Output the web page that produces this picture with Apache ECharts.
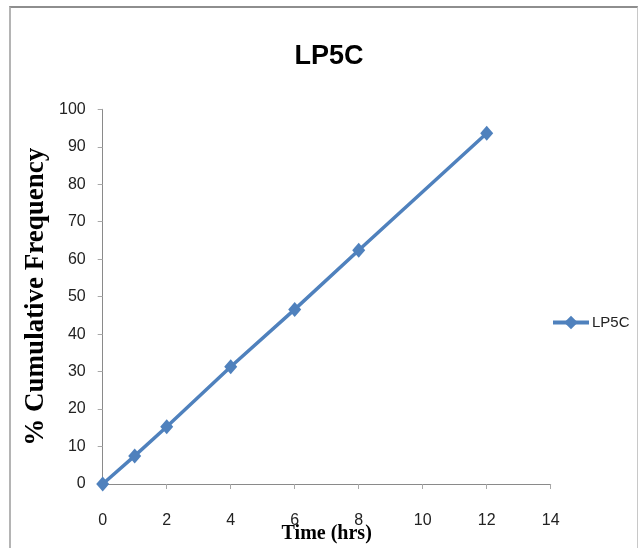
<!DOCTYPE html>
<html>
<head>
<meta charset="utf-8">
<script src="https://cdn.jsdelivr.net/npm/echarts@6/dist/echarts.min.js"></script>
<style>
    html, body { margin: 0; padding: 0; background: #fff; overflow: hidden; }
    #frame {
        position: absolute; left: 9px; top: 6px; width: 626px; height: 542px;
        border-top: 2px solid #8e8e8e; border-left: 2px solid #b4b4b4; border-right: 1px solid #c8c8c8;
    }
    #chart { position: absolute; left: 0; top: 0; width: 638px; height: 548px; }
</style>
</head>
<body>
<div id="frame"></div>
<div id="chart"></div>
<script>
// LP5C 累积释放数据
var seriesName = 'LP5C';
var timeHrs = [0, 1, 2, 4, 6, 8, 12];
var cumFreq = [0, 7.5, 15.3, 31.3, 46.6, 62.4, 93.6];

var sans = '"Liberation Sans Narrow", "Liberation Sans", sans-serif';
var serif = '"Liberation Serif", "DejaVu Serif", serif';

var points = [];
for (var i = 0; i < timeHrs.length; i++) {
    points.push([timeHrs[i], cumFreq[i]]);
}

var myChart = echarts.init(document.getElementById('chart'));
var option = {
    backgroundColor: 'transparent',
    animation: false,
    title: {
        text: seriesName,
        left: 324,
        top: 38,
        textAlign: 'center',
        textStyle: {
            fontFamily: sans,
            fontWeight: 'bold',
            fontSize: 27,
            color: '#000'
        }
    },
    legend: {
        data: [seriesName],
        left: 546,
        top: 310,
        itemWidth: 36,
        itemHeight: 17,
        itemGap: 4,
        lineStyle: {width: 4},
        textStyle: {
            fontFamily: sans,
            fontSize: 15,
            color: '#222',
            padding: [0, 0, 0, -2]
        }
    },
    grid: {
        left: 102.7,
        right: 87.3,
        top: 109.3,
        bottom: 64,
        outerBoundsMode: 'none'
    },
    xAxis: {
        type: 'value',
        min: 0,
        max: 14,
        interval: 2,
        name: 'Time (hrs)',
        nameLocation: 'middle',
        nameGap: 40,
        nameMoveOverlap: false,
        nameTextStyle: {
            fontFamily: serif,
            fontWeight: 'bold',
            fontSize: 20,
            color: '#000'
        },
        axisLine: {lineStyle: {color: '#8a8a8a', width: 1}},
        axisTick: {show: true, length: 5, lineStyle: {color: '#a8a8a8'}},
        axisLabel: {
            margin: 29,
            fontFamily: sans,
            fontSize: 16,
            color: '#222'
        },
        splitLine: {show: false}
    },
    yAxis: {
        type: 'value',
        min: 0,
        max: 100,
        interval: 10,
        name: '% Cumulative Frequency',
        nameLocation: 'middle',
        nameGap: 53,
        nameMoveOverlap: false,
        nameTextStyle: {
            fontFamily: serif,
            fontWeight: 'bold',
            fontSize: 27,
            color: '#000'
        },
        axisLine: {show: true, lineStyle: {color: '#8a8a8a', width: 1}},
        axisTick: {show: true, length: 5, lineStyle: {color: '#a8a8a8'}},
        axisLabel: {
            margin: 17,
            fontFamily: sans,
            fontSize: 16,
            color: '#222'
        },
        splitLine: {show: false}
    },
    series: [
        {
            name: seriesName,
            type: 'line',
            data: points,
            symbol: 'diamond',
            symbolSize: [13, 15],
            showAllSymbol: true,
            itemStyle: {color: '#4f81bd'},
            lineStyle: {color: '#4f81bd', width: 3.5}
        }
    ]
};
myChart.setOption(option);
</script>
</body>
</html>
